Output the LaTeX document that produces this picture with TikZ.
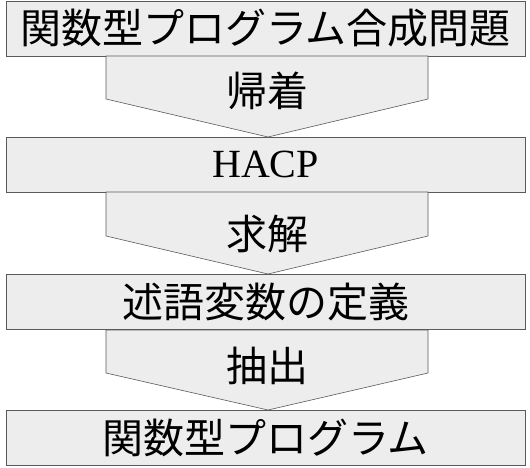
\documentclass[tikz,border=0pt]{standalone}
\usepackage{fontspec}
\setmainfont{Liberation Serif}
\newfontfamily\jpfont{Noto Sans CJK JP}
\definecolor{boxfill}{HTML}{EDEDED}
\definecolor{boxline}{HTML}{5A5A5A}
\begin{document}
\begin{tikzpicture}[x=1pt,y=-1pt,
  stage/.style={draw=boxline, fill=boxfill, line width=0.9pt, minimum width=519pt, minimum height=55pt, inner sep=0pt, font=\jpfont\fontsize{41}{44}\selectfont},
  flow/.style={draw=boxline, fill=boxfill, line width=0.6pt},
  flowlabel/.style={inner sep=0pt, font=\jpfont\fontsize{41}{44}\selectfont}]
\useasboundingbox (0,0) rectangle (530,467);
\node[stage] (b1) at (265.5,28.5) {関数型プログラム合成問題};
\node[stage] (b2) at (265.5,164.5) {\rmfamily\fontsize{40}{44}\selectfont HACP};
\node[stage] (b3) at (265.5,302) {述語変数の定義};
\node[stage] (b4) at (265.5,438) {関数型プログラム};
% arrows
\draw[flow] (106,56) -- (428,56) -- (428,99) -- (268,137) -- (106,99) -- cycle;
\draw[flow] (106,192) -- (428,192) -- (428,236) -- (268,274) -- (106,236) -- cycle;
\draw[flow] (106,330) -- (428,330) -- (428,373) -- (268,410) -- (106,373) -- cycle;
\node[flowlabel] (l1) at (267,91) {帰着};
\node[flowlabel] (l2) at (267,234) {求解};
\node[flowlabel] (l3) at (267,366) {抽出};
\end{tikzpicture}
\end{document}
